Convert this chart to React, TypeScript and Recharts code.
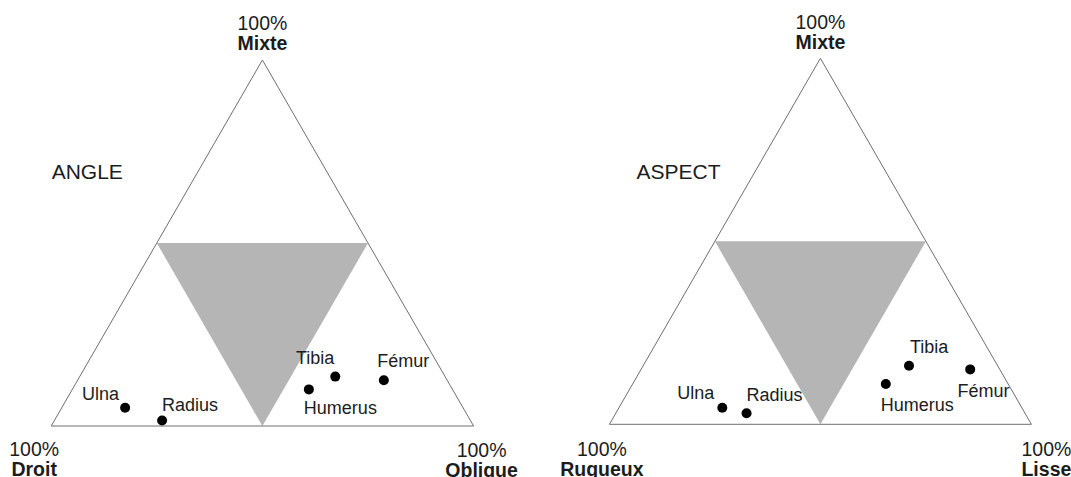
import React from 'react';
import { ComposedChart, XAxis, YAxis, Scatter, Area } from 'recharts';

// ---- data (percentages: [left corner, top corner, right corner]) ----
const bones = ['Ulna', 'Radius', 'Humerus', 'Tibia', 'Fémur'];

const angleDroit = [80, 73, 34, 26, 15];
const angleMixte = [5, 1.5, 10, 13.5, 12.5];
const angleOblique = [15, 25.5, 56, 60.5, 72.5];

const aspectRugueux = [71, 66, 29, 21, 7];
const aspectMixte = [4.5, 3, 11, 16, 15];
const aspectLisse = [24.5, 31, 60, 63, 78];

const angleCorners = ['Droit', 'Mixte', 'Oblique'];
const aspectCorners = ['Rugueux', 'Mixte', 'Lisse'];
const cornerPercent = '100%';

// zone where no component reaches 50 %
const zoneVertices = [
  [50, 50, 0],
  [0, 50, 50],
  [50, 0, 50],
];
const outlineVertices = [
  [100, 0, 0],
  [0, 100, 0],
  [0, 0, 100],
  [100, 0, 0],
];

// ---- helpers ----
const toXY = (l: number, t: number, r: number) => {
  const s = l + t + r;
  return { x: (r + t / 2) / s, y: t / s };
};

const FONT = '"Liberation Sans", Arial, Helvetica, sans-serif';
const TEXT = '#1c1c1c';

type Off = { anchor: 'start' | 'end' | 'middle'; dx: number; dy: number };

interface Cfg {
  title: string;
  corners: string[];
  left: number[];
  top: number[];
  right: number[];
  margin: { top: number; left: number; right: number; bottom: number };
  titlePos: { x: number; y: number };
  cornerOff: Record<string, { dx: number; dy: number }>;
  labelOff: Record<string, Off>;
}

const angleCfg: Cfg = {
  title: 'ANGLE',
  corners: angleCorners,
  left: angleDroit,
  top: angleMixte,
  right: angleOblique,
  margin: { top: 60, left: 51.2, right: 61.4, bottom: 51 },
  titlePos: { x: 51.7, y: 178.5 },
  cornerOff: { left: { dx: -17, dy: 30 }, top: { dx: 0, dy: -30 }, right: { dx: 8, dy: 31 } },
  labelOff: {
    Ulna: { anchor: 'end', dx: -6, dy: -7.3 },
    Radius: { anchor: 'start', dx: 0, dy: -10 },
    Humerus: { anchor: 'start', dx: -5, dy: 24.6 },
    Tibia: { anchor: 'end', dx: -1, dy: -12.7 },
    'Fémur': { anchor: 'start', dx: -6.5, dy: -13.3 },
  },
};

const aspectCfg: Cfg = {
  title: 'ASPECT',
  corners: aspectCorners,
  left: aspectRugueux,
  top: aspectMixte,
  right: aspectLisse,
  margin: { top: 58.3, left: 73.4, right: 39.6, bottom: 52.7 },
  titlePos: { x: 100.6, y: 179 },
  cornerOff: { left: { dx: -7.5, dy: 31.7 }, top: { dx: 0, dy: -29 }, right: { dx: 15, dy: 32 } },
  labelOff: {
    Ulna: { anchor: 'end', dx: -8, dy: -9 },
    Radius: { anchor: 'start', dx: 0, dy: -12.6 },
    Humerus: { anchor: 'start', dx: -5, dy: 27.4 },
    Tibia: { anchor: 'start', dx: 1, dy: -12.4 },
    'Fémur': { anchor: 'start', dx: -12.6, dy: 28 },
  },
};

const W = 535;
const H = 477;

function Ternary({ cfg }: { cfg: Cfg }) {
  const points = bones.map((name, i) => ({ name, ...toXY(cfg.left[i], cfg.top[i], cfg.right[i]) }));
  const outline = outlineVertices.map((v) => toXY(v[0], v[1], v[2]));
  const z = zoneVertices.map((v) => toXY(v[0], v[1], v[2]));
  const zone = [
    { x: z[0].x, range: [z[0].y, z[0].y] },
    { x: z[2].x, range: [z[2].y, z[0].y] },
    { x: z[1].x, range: [z[1].y, z[1].y] },
  ];
  const cornerKeys = ['left', 'top', 'right'];
  const corners = outlineVertices.slice(0, 3).map((v, i) => ({
    key: cornerKeys[i],
    name: cfg.corners[i],
    ...toXY(v[0], v[1], v[2]),
  }));

  return (
    <div style={{ position: 'relative', width: W, height: H }}>
      <ComposedChart width={W} height={H} margin={cfg.margin}>
        <XAxis type="number" dataKey="x" domain={[0, 1]} hide />
        <YAxis type="number" dataKey="y" domain={[0, 1]} hide />
        <Area
          data={zone}
          dataKey="range"
          type="linear"
          fill="#b5b5b5"
          fillOpacity={1}
          stroke="none"
          isAnimationActive={false}
          dot={false}
          activeDot={false}
        />
        <Scatter
          data={outline}
          line={{ stroke: '#6f6f6f', strokeWidth: 1 }}
          shape={() => <g />}
          isAnimationActive={false}
        />
        <Scatter
          data={points}
          isAnimationActive={false}
          shape={(p: any) => {
            const o = cfg.labelOff[p.payload.name];
            return (
              <g>
                <circle cx={p.cx} cy={p.cy} r={5} fill="#000" />
                <text
                  x={p.cx + o.dx}
                  y={p.cy + o.dy}
                  textAnchor={o.anchor}
                  fontFamily={FONT}
                  fontSize={18}
                  fill={TEXT}
                >
                  {p.payload.name}
                </text>
              </g>
            );
          }}
        />
        <Scatter
          data={corners}
          isAnimationActive={false}
          shape={(p: any) => {
            const o = cfg.cornerOff[p.payload.key];
            const x = p.cx + o.dx;
            const y = p.cy + o.dy;
            return (
              <g>
                <text x={x} y={y} textAnchor="middle" fontFamily={FONT} fontSize={19.5} fill={TEXT}>
                  {cornerPercent}
                </text>
                <text
                  x={x}
                  y={y + 20}
                  textAnchor="middle"
                  fontFamily={FONT}
                  fontSize={19.5}
                  fontWeight="bold"
                  fill={TEXT}
                >
                  {p.payload.name}
                </text>
              </g>
            );
          }}
        />
      </ComposedChart>
      <svg
        width={W}
        height={H}
        style={{ position: 'absolute', left: 0, top: 0, pointerEvents: 'none' }}
      >
        <text x={cfg.titlePos.x} y={cfg.titlePos.y} fontFamily={FONT} fontSize={21} fill={TEXT}>
          {cfg.title}
        </text>
      </svg>
    </div>
  );
}

export default function App() {
  return (
    <div
      style={{
        position: 'absolute',
        left: 0,
        top: 0,
        width: 1071,
        height: 477,
        background: '#fff',
        overflow: 'hidden',
      }}
    >
      <div style={{ position: 'absolute', left: 0, top: 0 }}>
        <Ternary cfg={angleCfg} />
      </div>
      <div style={{ position: 'absolute', left: 536, top: 0 }}>
        <Ternary cfg={aspectCfg} />
      </div>
    </div>
  );
}
